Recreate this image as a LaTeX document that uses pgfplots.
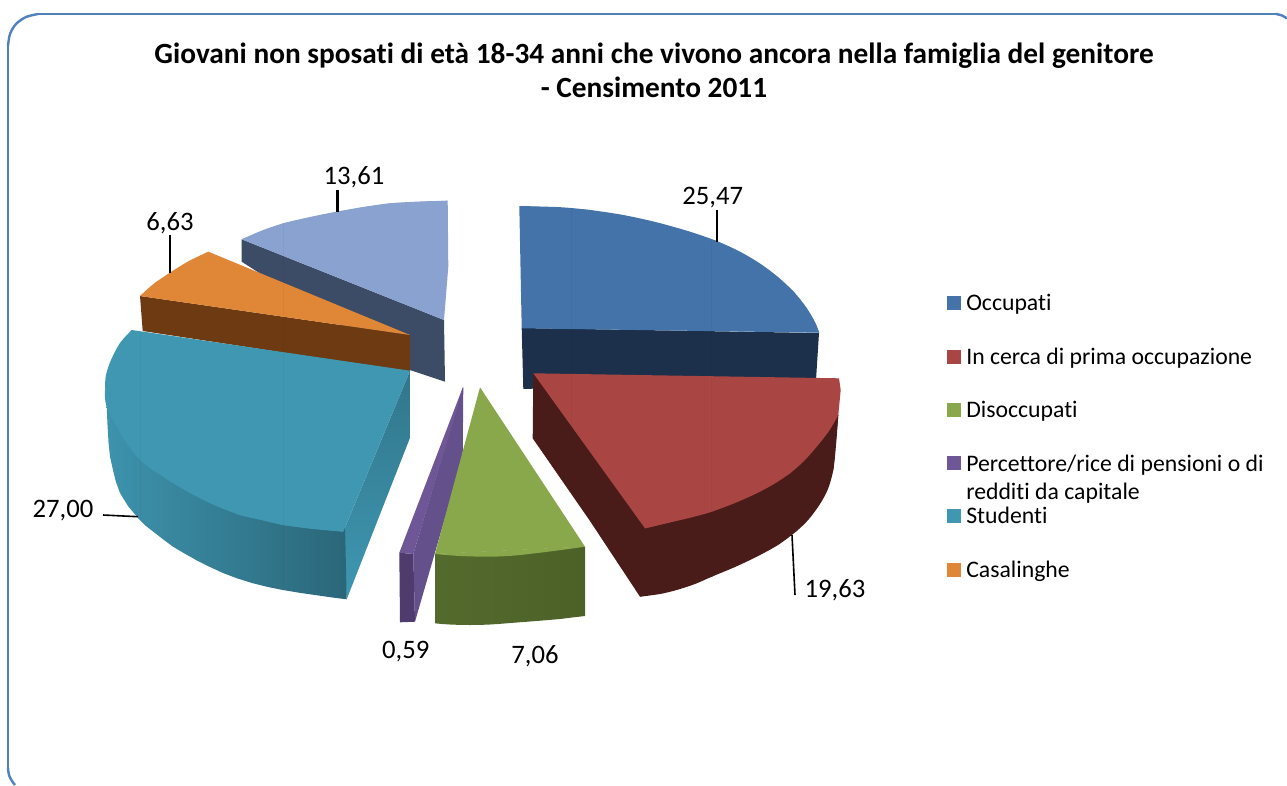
\documentclass[border=0pt]{standalone}
\usepackage{pgfplots}
\pgfplotsset{compat=1.18}
\usepackage{fontspec}
\setmainfont[Ligatures=NoCommon]{Carlito}
\definecolor{cBlue}{HTML}{4373A8}\definecolor{cBlueS}{HTML}{1C304B}
\definecolor{cRed}{HTML}{A94542}\definecolor{cRedS}{HTML}{4A1C19}
\definecolor{cGreen}{HTML}{88A84B}\definecolor{cGreenS}{HTML}{4C6127}\definecolor{cGreenL}{HTML}{546A2D}\definecolor{cGreenM}{HTML}{425822}
\definecolor{cPurple}{HTML}{6F5696}\definecolor{cPurpleM}{HTML}{64508A}\definecolor{cPurpleS}{HTML}{4F3B6E}
\definecolor{cTeal}{HTML}{3F97B2}
\definecolor{cOrange}{HTML}{E08637}\definecolor{cOrangeS}{HTML}{6D3A12}
\definecolor{cLB}{HTML}{8AA2CF}\definecolor{cLBS}{HTML}{3D4C66}
\definecolor{cFrame}{HTML}{4F81BD}
\begin{document}
\begin{tikzpicture}
\path[use as bounding box] (0,0) rectangle (965.25pt,588.75pt);
\begin{axis}[at={(0,0)},anchor=south west,scale only axis,width=965.25pt,height=588.75pt,
  xmin=0,xmax=1287,ymin=0,ymax=785,y dir=reverse,hide axis,clip=false]
% frame
\addplot[cFrame,line width=1.8pt,no marks] coordinates {(8,770)(8,45)};
\addplot[cFrame,line width=1.8pt,no marks] coordinates {(38,14)(1277,14)};
\addplot[cFrame,line width=1.8pt,no marks,smooth] coordinates {(8,46)(10,34)(16,24)(26,17)(38,14)};
\addplot[cFrame,line width=1.8pt,no marks,smooth] coordinates {(8,768)(9,775)(12,781)(15,785)};
\addplot[cFrame,line width=1.8pt,no marks,smooth] coordinates {(1276,14)(1282,15.5)(1287,18.5)};
% light blue slice
\addplot[fill=cLBS,draw=none] coordinates {(241.7,239.3)(444,320)(445,381.7)(410,370)(241.7,261.7)};
\addplot[fill=cLB,draw=none] coordinates {(241.7,239.3)(283.3,223.3)(336.7,211.7)(390,203.3)(447.7,200.7)(448.3,266.7)(444,320)};
\addplot[fill=cLB,draw=none,smooth] coordinates {(241.7,239.3)(262,230.5)(283.3,223.3)(310,217)(336.7,211.7)(363,207)(390,203.3)(420,201.5)(447.7,200.7)};
% orange slice
\addplot[fill=cOrangeS,draw=none] coordinates {(140,296)(410,335)(410,372)(142.7,331)};
\addplot[fill=cOrange,draw=none] coordinates {(410,335)(208.3,251.7)(170,272.7)(140,296)};
\addplot[fill=cOrange,draw=none,smooth] coordinates {(208.3,251.7)(188,261.5)(170,272.7)(154,283.5)(140,296)};
% teal slice
\addplot[top color=cTeal!78!black,bottom color=cTeal,draw=none] coordinates {(410,370.7)(410.7,436)(346.7,599.3)(343.3,531.7)};
\addplot[left color=cTeal!97!black,middle color=cTeal!86!black,right color=cTeal!68!black,draw=none] coordinates {(106.7,406.7)(107.5,425)(108.5,442)(110,456.7)(113,470)(116,482)(120,493)(128,506)(138,518)(146,526)(155,533)(164,540)(173,546.7)(185,553.8)(197,560.5)(210,567)(223,573)(237,578.3)(252,583)(267,586.8)(283,590)(299,592.7)(315,595)(331,597.3)(346.7,599.3)(345,525)(283,515)(190,480)(140,450)};
\addplot[fill=cTeal,draw=none] coordinates {(410,370.7)(131.7,330)(105,390)(106.7,406.7)(140,460)(190,493)(240,515)(283,525)(343.3,531.7)};
\addplot[fill=cTeal,draw=none,smooth] coordinates {(131.7,330)(120,343)(111,360)(106,375)(105,390)(106.7,406.7)(122,436)(140,460)(164,477.5)(190,493)(214,505)(240,515)(262,520)(283,525)(313,529)(343.3,531.7)};
% blue slice
\addplot[fill=cBlueS,draw=none] coordinates {(521.7,328)(819,333)(816,380)(523.3,389)};
\addplot[fill=cBlue,draw=none] coordinates {(519.3,206)(590,210)(716.7,241)(794,292)(819.3,332.7)(521.7,328.3)};
\addplot[fill=cBlue,draw=none,smooth] coordinates {(519.3,206)(560,207.2)(590,210)(623.3,215)(656.7,222.3)(690,231.7)(716.7,241)(740,251.7)(760,263.5)(778,277)(794,292)(806,307)(815,322)(819.3,332.7)};
% red slice
\addplot[fill=cRedS,draw=none] coordinates {(533.3,373.3)(838.3,415)(833.3,470)(796.7,531)(711.7,576.7)(640,596.7)(590,521)(532.7,438.3)};
\addplot[fill=cRedS,draw=none,smooth] coordinates {(838.3,415)(836,445)(833.3,470)(828,489)(820,504)(809,519)(796.7,531)(778,545)(756.7,556.7)(735,567)(711.7,576.7)(695,584)(676.7,590)(660,594)(640,596.7)};
\addplot[fill=cRed,draw=none] coordinates {(533.3,373.3)(839,378.3)(840.7,390)(838.3,415)(790,473.3)(711.7,511.7)(645,528.3)};
\addplot[fill=cRed,draw=none,smooth] coordinates {(838.3,415)(829,431)(816.7,446.7)(804,461)(790,473.3)(774,484)(756.7,493.3)(735,503)(711.7,511.7)(693,517)(673.3,521.7)(645,528.3)};
% purple slice
\addplot[fill=cPurpleM,draw=none] coordinates {(462.7,387.7)(463.3,387.7)(462.7,456.7)(415,621.7)(413.3,554)};
\addplot[fill=cPurpleS,draw=none] coordinates {(399.3,552.7)(413.3,554)(415,621.7)(400,622.3)};
\addplot[fill=cPurple,draw=none] coordinates {(462.7,387.7)(463.3,387.7)(413.3,554)(399.3,552.7)};
% green slice
\addplot[left color=cGreenL,middle color=cGreenM,right color=cGreenS,draw=none] coordinates {(435,554)(585,546.7)(585,616)(572,617.5)(560,619)(545,620.3)(530,621.5)(518,622.4)(506.7,623.3)(498,624)(490,624.5)(480,624.9)(470,625)(460,624.9)(450,624.5)(442,624)(435,623.3)};
\addplot[fill=cGreen,draw=none] coordinates {(480,387.3)(585,546.7)(435,554)};
\addplot[fill=cGreen,draw=none,smooth] coordinates {(585,546.7)(565,549.5)(540,552.7)(515,555.5)(490,556.7)(460,556)(435,554)};
% faint seams of the 3-D surface
\addplot[black,opacity=0.035,line width=0.6pt,no marks] coordinates {(283.3,223.3)(283.3,590)};
\addplot[black,opacity=0.035,line width=0.6pt,no marks] coordinates {(140,330)(140,519)};
\addplot[black,opacity=0.035,line width=0.6pt,no marks] coordinates {(711.7,241)(711.7,576.7)};
\addplot[black,opacity=0.035,line width=0.6pt,no marks] coordinates {(571,207.5)(571,495)};
% leaders
\addplot[black,line width=1.7pt,no marks] coordinates {(337.5,190)(337.5,212)};
\addplot[black,line width=1.7pt,no marks] coordinates {(170,235)(170,272.7)};
\addplot[black,line width=1.7pt,no marks] coordinates {(716.7,210)(716.7,241.7)};
\addplot[black,line width=1.2pt,no marks] coordinates {(792,535)(795,595)};
\addplot[black,line width=1.2pt,no marks] coordinates {(103,515)(138,516.7)};
% legend swatches
\addplot[fill=cBlue,draw=none] coordinates {(947,296)(961,296)(961,310)(947,310)};
\addplot[fill=cRed,draw=none] coordinates {(947,350)(961,350)(961,364)(947,364)};
\addplot[fill=cGreen,draw=none] coordinates {(947,403)(961,403)(961,417)(947,417)};
\addplot[fill=cPurple,draw=none] coordinates {(947,456)(961,456)(961,470)(947,470)};
\addplot[fill=cTeal,draw=none] coordinates {(947,509)(961,509)(961,523)(947,523)};
\addplot[fill=cOrange,draw=none] coordinates {(947,563)(961,563)(961,577)(947,577)};
% texts
\def\lf{\fontsize{17.8}{17.8}\selectfont}
\def\vf{\fontsize{20}{20}\selectfont}
\def\tf{\fontsize{22}{22}\selectfont\bfseries}
\node[anchor=base,inner sep=0pt] at (axis cs:654,63) {\tf Giovani non sposati di età 18-34 anni che vivono ancora nella famiglia del genitore};
\node[anchor=base,inner sep=0pt] at (axis cs:654,97) {\tf - Censimento 2011};
\node[anchor=base,inner sep=0pt] at (axis cs:354,184) {\vf 13,61};
\node[anchor=base,inner sep=0pt] at (axis cs:170,230.5) {\vf 6,63};
\node[anchor=base,inner sep=0pt] at (axis cs:712.7,204.5) {\vf 25,47};
\node[anchor=base,inner sep=0pt] at (axis cs:835,597.5) {\vf 19,63};
\node[anchor=base,inner sep=0pt] at (axis cs:405.7,658) {\vf 0,59};
\node[anchor=base,inner sep=0pt] at (axis cs:535,663) {\vf 7,06};
\node[anchor=base,inner sep=0pt] at (axis cs:63,517) {\vf 27,00};
\node[anchor=base west,inner sep=0pt] at (axis cs:966,310.5) {\lf Occupati};
\node[anchor=base west,inner sep=0pt] at (axis cs:966,364.5) {\lf In cerca di prima occupazione};
\node[anchor=base west,inner sep=0pt] at (axis cs:966,417.5) {\lf Disoccupati};
\node[anchor=base west,inner sep=0pt] at (axis cs:966,471) {\lf Percettore/rice di pensioni o di};
\node[anchor=base west,inner sep=0pt] at (axis cs:966,499) {\lf redditi da capitale};
\node[anchor=base west,inner sep=0pt] at (axis cs:966,523.5) {\lf Studenti};
\node[anchor=base west,inner sep=0pt] at (axis cs:966,577.5) {\lf Casalinghe};
\end{axis}
\end{tikzpicture}
\end{document}
